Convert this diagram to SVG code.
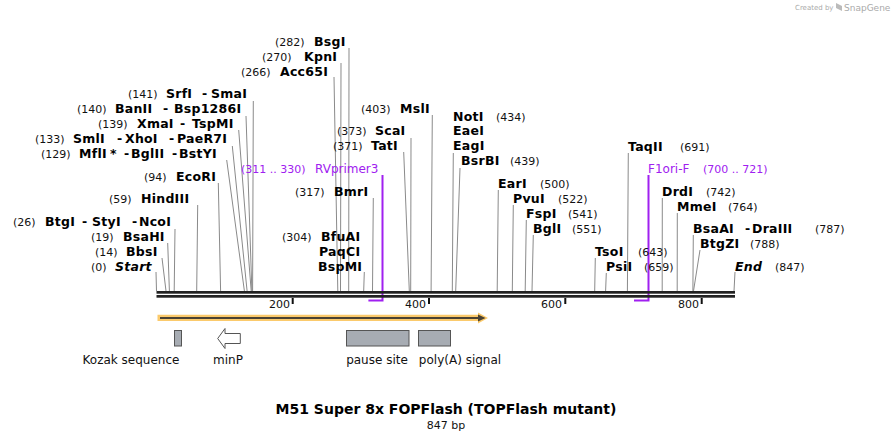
<svg xmlns="http://www.w3.org/2000/svg" width="893" height="441" viewBox="0 0 893 441">
<style>
.n{font-family:"DejaVu Sans",Verdana,sans-serif;font-size:11px;fill:#111}
.b{font-family:"DejaVu Sans",Verdana,sans-serif;font-size:12.5px;font-weight:bold;letter-spacing:0.25px;fill:#000}
.bi{font-family:"DejaVu Sans",Verdana,sans-serif;font-size:12.5px;font-weight:bold;font-style:italic;letter-spacing:0.25px;fill:#000}
.p{font-family:"DejaVu Sans",Verdana,sans-serif;font-size:12px;fill:#a020f0}
.pn{font-family:"DejaVu Sans",Verdana,sans-serif;font-size:11px;fill:#a020f0}
.f{font-family:"DejaVu Sans",Verdana,sans-serif;font-size:12px;fill:#111}
.c line{stroke:#8a8a8a;stroke-width:1}
.pl{stroke:#a020f0;stroke-width:2;fill:none}
.feat{fill:#a7acb3;stroke:#555;stroke-width:1}
</style>
<rect width="893" height="441" fill="#fff"/>
<g id="watermark">
<text x="795" y="10" font-family="DejaVu Sans,sans-serif" font-size="7" fill="#aaa">Created by</text>
<path d="M836 3 l6 3 v5 l-6 -3 z" fill="#bbb"/>
<text x="844" y="11" font-family="DejaVu Sans,sans-serif" font-size="9" fill="#aaa">SnapGene</text>
</g>
<g id="connectors" class="c">
<line x1="349" y1="48" x2="348.7" y2="291"/>
<line x1="341" y1="63" x2="340.5" y2="291"/>
<line x1="334" y1="77" x2="337.8" y2="291"/>
<line x1="253.3" y1="101" x2="252.6" y2="291"/>
<line x1="246" y1="116" x2="251.9" y2="291"/>
<line x1="238.7" y1="130" x2="251.2" y2="291"/>
<line x1="232.3" y1="146" x2="247.1" y2="291"/>
<line x1="226.7" y1="160" x2="244.4" y2="291"/>
<line x1="218.3" y1="183" x2="220.6" y2="291"/>
<line x1="197.7" y1="205" x2="196.7" y2="291"/>
<line x1="175" y1="229" x2="174.2" y2="291"/>
<line x1="167.7" y1="243" x2="169.4" y2="291"/>
<line x1="162" y1="258" x2="166" y2="291"/>
<line x1="156" y1="272" x2="156.5" y2="291"/>
<line x1="411" y1="138" x2="410.7" y2="291"/>
<line x1="403.7" y1="152" x2="409.3" y2="291"/>
<line x1="432.3" y1="115" x2="431.1" y2="291"/>
<line x1="453.3" y1="153" x2="452.3" y2="291"/>
<line x1="460" y1="168" x2="455.7" y2="291"/>
<line x1="373.3" y1="198" x2="372.5" y2="291"/>
<line x1="364.3" y1="272" x2="363.7" y2="291"/>
<line x1="498.3" y1="190" x2="497.2" y2="291"/>
<line x1="513.3" y1="205" x2="512.3" y2="291"/>
<line x1="526.3" y1="220" x2="525.2" y2="291"/>
<line x1="533.3" y1="235" x2="532" y2="291"/>
<line x1="595.3" y1="258" x2="594.7" y2="291"/>
<line x1="606.3" y1="273" x2="605.6" y2="291"/>
<line x1="628.3" y1="153" x2="627.4" y2="291"/>
<line x1="662.3" y1="198" x2="662.2" y2="291"/>
<line x1="677.3" y1="213" x2="677.2" y2="291"/>
<line x1="693.3" y1="235" x2="692.9" y2="291"/>
<line x1="700" y1="250" x2="693.5" y2="291"/>
<line x1="735" y1="272" x2="734" y2="291"/>
<path class="pl" d="M382.5 175 V300.5 H368.4"/>
<path class="pl" d="M648.5 175 V300.5 H634"/>
</g>
<g id="backbone">
<rect x="156.5" y="291" width="578.5" height="2.7" fill="#222"/>
<rect x="156.5" y="295" width="578.5" height="2.7" fill="#222"/>
<rect x="291.7" y="298" width="2" height="6" fill="#111"/>
<rect x="428" y="298" width="2" height="6" fill="#111"/>
<rect x="564.3" y="298" width="2" height="6" fill="#111"/>
<rect x="700.7" y="298" width="2" height="6" fill="#111"/>
<text class="n" x="290" y="308" text-anchor="end">200</text>
<text class="n" x="426" y="308" text-anchor="end">400</text>
<text class="n" x="562" y="308" text-anchor="end">600</text>
<text class="n" x="699" y="308" text-anchor="end">800</text>
</g>
<g id="BsgI"><text class="n" x="275" y="46">(282)</text><text class="b" x="314" y="46">BsgI</text></g>
<g id="KpnI"><text class="n" x="262" y="61">(270)</text><text class="b" x="304" y="61">KpnI</text></g>
<g id="Acc65I"><text class="n" x="241" y="76">(266)</text><text class="b" x="280" y="76">Acc65I</text></g>
<g id="SrfI"><text class="n" x="128" y="98">(141)</text><text class="b" x="166" y="98">SrfI</text><text class="b" x="202" y="98">-</text><text class="b" x="211" y="98">SmaI</text></g>
<g id="BanII"><text class="n" x="77" y="113">(140)</text><text class="b" x="115" y="113">BanII</text><text class="b" x="163" y="113">-</text><text class="b" x="174" y="113">Bsp1286I</text></g>
<g id="XmaI"><text class="n" x="98" y="128">(139)</text><text class="b" x="137" y="128">XmaI</text><text class="b" x="180" y="128">-</text><text class="b" x="192" y="128">TspMI</text></g>
<g id="SmlI"><text class="n" x="35" y="143">(133)</text><text class="b" x="73" y="143">SmlI</text><text class="b" x="117" y="143">-</text><text class="b" x="125" y="143">XhoI</text><text class="b" x="169" y="143">-</text><text class="b" x="177" y="143">PaeR7I</text></g>
<g id="MflI"><text class="n" x="41" y="158">(129)</text><text class="b" x="79" y="158">MflI</text><text class="b" x="110" y="158">*</text><text class="b" x="124" y="158">-</text><text class="b" x="131" y="158">BglII</text><text class="b" x="172" y="158">-</text><text class="b" x="179" y="158">BstYI</text></g>
<g id="EcoRI"><text class="n" x="144" y="181">(94)</text><text class="b" x="176" y="181">EcoRI</text></g>
<g id="HindIII"><text class="n" x="109" y="203">(59)</text><text class="b" x="141" y="203">HindIII</text></g>
<g id="BtgI"><text class="n" x="13" y="226">(26)</text><text class="b" x="45" y="226">BtgI</text><text class="b" x="82" y="226">-</text><text class="b" x="92" y="226">StyI</text><text class="b" x="132" y="226">-</text><text class="b" x="139" y="226">NcoI</text></g>
<g id="BsaHI"><text class="n" x="91" y="241">(19)</text><text class="b" x="123" y="241">BsaHI</text></g>
<g id="BbsI"><text class="n" x="95" y="256">(14)</text><text class="b" x="126" y="256">BbsI</text></g>
<g id="Start"><text class="n" x="91" y="271">(0)</text><text class="bi" x="115" y="271">Start</text></g>
<g id="ScaI"><text class="n" x="337" y="135">(373)</text><text class="b" x="375" y="135">ScaI</text></g>
<g id="TatI"><text class="n" x="333" y="150">(371)</text><text class="b" x="371" y="150">TatI</text></g>
<g id="MslI"><text class="n" x="361" y="113">(403)</text><text class="b" x="400" y="113">MslI</text></g>
<g id="NotI"><text class="b" x="453" y="121">NotI</text><text class="n" x="496" y="121">(434)</text><text class="b" x="453" y="135">EaeI</text><text class="b" x="453" y="150">EagI</text></g>
<g id="BsrBI"><text class="b" x="461" y="165">BsrBI</text><text class="n" x="510" y="165">(439)</text></g>
<g id="BmrI"><text class="n" x="295" y="196">(317)</text><text class="b" x="334" y="196">BmrI</text></g>
<g id="BfuAI"><text class="n" x="282" y="241">(304)</text><text class="b" x="321" y="241">BfuAI</text><text class="b" x="319" y="256">PaqCI</text><text class="b" x="318" y="271">BspMI</text></g>
<g id="RVprimer3"><text class="pn" x="241" y="173">(311 .. 330)</text><text class="p" x="315" y="173">RVprimer3</text></g>
<g id="EarI"><text class="b" x="498" y="188">EarI</text><text class="n" x="540" y="188">(500)</text></g>
<g id="PvuI"><text class="b" x="513" y="203">PvuI</text><text class="n" x="558" y="203">(522)</text></g>
<g id="FspI"><text class="b" x="526" y="218">FspI</text><text class="n" x="568" y="218">(541)</text></g>
<g id="BglI"><text class="b" x="533" y="233">BglI</text><text class="n" x="572" y="233">(551)</text></g>
<g id="TsoI"><text class="b" x="595" y="256">TsoI</text><text class="n" x="638" y="256">(643)</text></g>
<g id="PsiI"><text class="b" x="606" y="271">PsiI</text><text class="n" x="644" y="271">(659)</text></g>
<g id="TaqII"><text class="b" x="628" y="151">TaqII</text><text class="n" x="680" y="151">(691)</text></g>
<g id="F1ori-F"><text class="p" x="648" y="173">F1ori-F</text><text class="pn" x="703" y="173">(700 .. 721)</text></g>
<g id="DrdI"><text class="b" x="662" y="196">DrdI</text><text class="n" x="706" y="196">(742)</text></g>
<g id="MmeI"><text class="b" x="677" y="211">MmeI</text><text class="n" x="728" y="211">(764)</text></g>
<g id="BsaAI"><text class="b" x="693" y="233">BsaAI</text><text class="b" x="745" y="233">-</text><text class="b" x="752" y="233">DraIII</text><text class="n" x="815" y="233">(787)</text></g>
<g id="BtgZI"><text class="b" x="700" y="248">BtgZI</text><text class="n" x="750" y="248">(788)</text></g>
<g id="End"><text class="bi" x="735" y="271">End</text><text class="n" x="775" y="271">(847)</text></g>
<g id="orf">
<path d="M157.5 314.7 H478 V312.5 L488 318 L478 323.5 V321 H157.5 Z" fill="#fbca6c"/>
<line x1="160" y1="318" x2="480" y2="318" stroke="#4a4233" stroke-width="2"/>
<path d="M478 314.5 L485.5 318 L478 321.5 Z" fill="#4a4233"/>
</g>
<g id="Kozak"><rect class="feat" x="174.5" y="330.5" width="7" height="15.5"/><text class="f" x="131" y="364" text-anchor="middle">Kozak sequence</text></g>
<g id="minP"><path d="M217.7 338.5 L225 328.5 V333.5 H240.3 V343.5 H225 V348.5 Z" fill="#fff" stroke="#555" stroke-width="1"/><text class="f" x="228" y="364" text-anchor="middle">minP</text></g>
<g id="pause"><rect class="feat" x="346.5" y="330.5" width="62.5" height="15.5"/><text class="f" x="377" y="364" text-anchor="middle">pause site</text></g>
<g id="polyA"><rect class="feat" x="418.5" y="330.5" width="32" height="15.5"/><text class="f" x="460" y="364" text-anchor="middle">poly(A) signal</text></g>
<g id="title">
<text x="446" y="414" text-anchor="middle" font-family="DejaVu Sans,Verdana,sans-serif" font-size="14" font-weight="bold" fill="#000">M51 Super 8x FOPFlash (TOPFlash mutant)</text>
<text x="446" y="429" text-anchor="middle" font-family="DejaVu Sans,Verdana,sans-serif" font-size="11" fill="#111">847 bp</text>
</g>
</svg>
